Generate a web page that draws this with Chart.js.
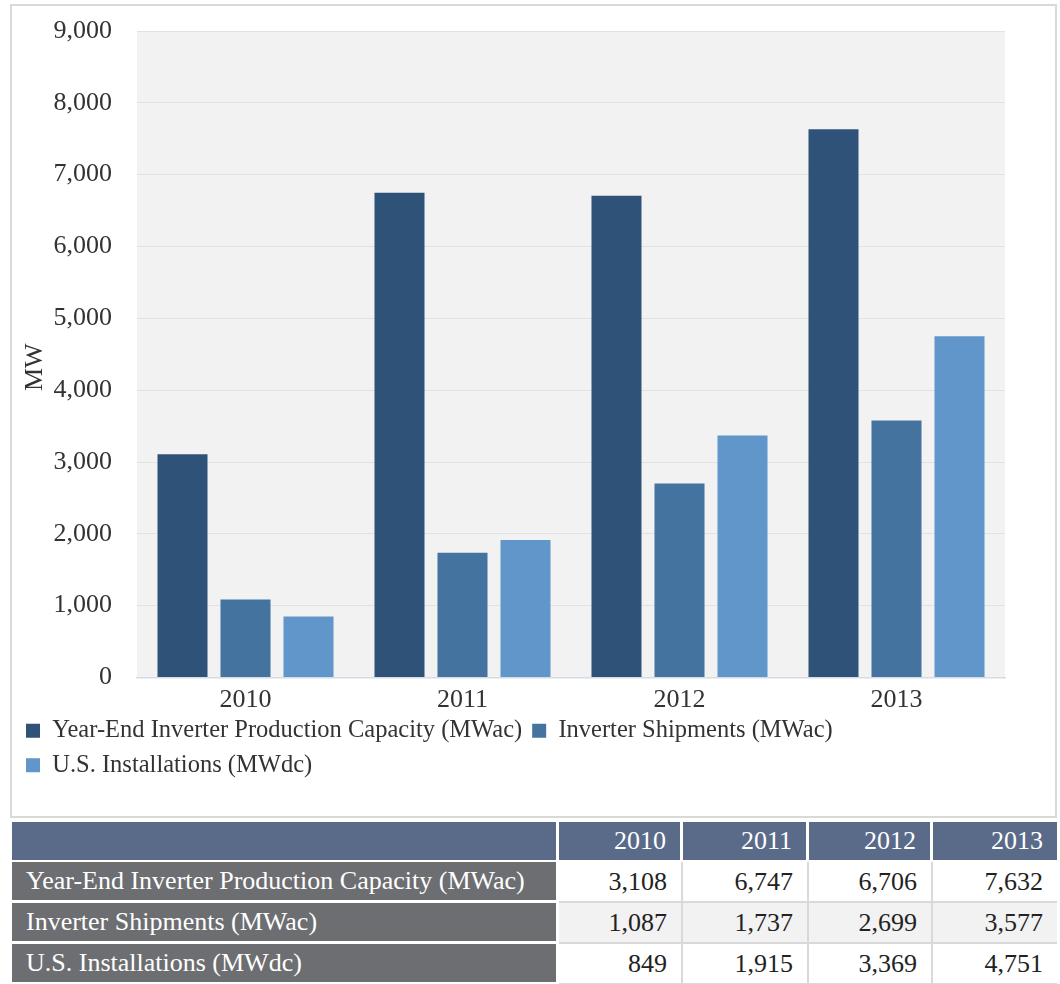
<!DOCTYPE html>
<html>
<head>
<meta charset="utf-8">
<script src="https://cdn.jsdelivr.net/npm/chart.js@4"></script>
<style>
  body { margin: 0; background: #fff; font-family: "Liberation Serif", "Times New Roman", serif; }
  #box { position: absolute; left: 10px; top: 4px; width: 1047px; height: 814px; border: 2px solid #d9d9d9; box-sizing: border-box; }
  #chartWrap { position: absolute; left: 0; top: 0; width: 1043px; height: 810px; }
  #tbl { position: absolute; left: 12px; top: 822px; width: 1045px; border-collapse: separate; border-spacing: 0; table-layout: fixed; font-size: 26px; }
  #tbl th, #tbl td { padding: 0 14px; white-space: nowrap; overflow: hidden; }
  #tbl thead th { background: #5a6b89; color: #fff; font-weight: normal; text-align: right; height: 38px; border-right: 3px solid #fff; border-bottom: 2px solid #fff; }
  #tbl thead th:last-child { border-right: none; }
  #tbl td.rh { background: #6d6e71; color: #fff; text-align: left; border-right: 3px solid #fff; border-bottom: 3px solid #fff; }
  #tbl td.v { text-align: right; color: #222; border-right: 2px solid #d9d9d9; border-bottom: 2px solid #d9d9d9; }
  #tbl td.v:last-child { border-right: none; }
  #tbl tbody tr { height: 41px; }
  #tbl tbody tr:nth-child(2) td.v { background: #f2f2f2; }
</style>
</head>
<body>
<div id="box"><div id="chartWrap"><canvas id="invChart"></canvas></div></div>
<table id="tbl">
  <colgroup><col style="width:547px"><col style="width:124px"><col style="width:126px"><col style="width:124px"><col style="width:124px"></colgroup>
  <thead><tr id="headRow"><th></th></tr></thead>
  <tbody id="tblBody"></tbody>
</table>
<script>
const years = ['2010', '2011', '2012', '2013'];
const seriesNames = ['Year-End Inverter Production Capacity (MWac)', 'Inverter Shipments (MWac)', 'U.S. Installations (MWdc)'];
const capacity = [3108, 6747, 6706, 7632];
const shipments = [1087, 1737, 2699, 3577];
const installs = [849, 1915, 3369, 4751];
const colors = ['#2f5278', '#44739f', '#6196ca'];

const allSeries = [capacity, shipments, installs];
const fmt = v => v.toLocaleString('en-US');

// table under the chart
const headRow = document.getElementById('headRow');
years.forEach(y => {
    const th = document.createElement('th');
    th.textContent = y;
    headRow.appendChild(th);
});
const tblBody = document.getElementById('tblBody');
allSeries.forEach((vals, i) => {
    const tr = document.createElement('tr');
    let html = '<td class="rh">' + seriesNames[i] + '</td>';
    vals.forEach(v => { html += '<td class="v">' + fmt(v) + '</td>'; });
    tr.innerHTML = html;
    tblBody.appendChild(tr);
});

const plotBg = {
    id: 'plotBg',
    beforeDraw(chart) {
        const {ctx, chartArea} = chart;
        ctx.save();
        ctx.fillStyle = '#f2f2f2';
        ctx.fillRect(chartArea.left, chartArea.top, chartArea.right - chartArea.left, chartArea.bottom - chartArea.top);
        ctx.restore();
    }
};

// pull the legend a bit closer to the axis labels
const legendNudge = {
    id: 'legendNudge',
    afterLayout(chart) {
        chart.legend.top -= 7;
        chart.legend.bottom -= 7;
    }
};

const serif = '"Liberation Serif", "Times New Roman", serif';
const ctx = document.getElementById('invChart').getContext('2d');
const invChart = new Chart(ctx, {
    type: 'bar',
    data: {
        labels: years,
        datasets: allSeries.map((vals, i) => ({
            label: seriesNames[i],
            data: vals,
            backgroundColor: colors[i],
            borderWidth: 0,
            categoryPercentage: 0.871,
            barPercentage: 0.794
        }))
    },
    options: {
        responsive: true,
        maintainAspectRatio: false,
        animation: false,
        layout: { padding: { left: 4, right: 50, top: 25, bottom: 21.6 } },
        plugins: {
            tooltip: { enabled: false },
            legend: {
                position: 'bottom',
                align: 'start',
                labels: {
                    font: { family: serif, size: 24.5 },
                    color: '#333',
                    boxWidth: 14,
                    boxHeight: 14,
                    padding: 10
                }
            }
        },
        scales: {
            x: {
                grid: { display: false },
                border: { color: '#d6dce5', width: 1.5 },
                ticks: { font: { family: serif, size: 26, lineHeight: 0.65 }, color: '#333', padding: 6.5 },
                afterFit(scale) { scale.paddingLeft = 0; scale.paddingRight = 0; }
            },
            y: {
                min: 0,
                max: 9000,
                ticks: { stepSize: 1000, font: { family: serif, size: 26 }, color: '#333', padding: 25 },
                grid: { color: '#e2e2e2', drawTicks: false },
                border: { display: false },
                title: { display: true, text: 'MW    ', font: { family: serif, size: 26 }, color: '#333', padding: { top: 3.4, bottom: 0 } },
                afterFit(scale) { scale.width = 121; scale.paddingTop = 0; scale.paddingBottom = 0; }
            }
        }
    },
    plugins: [plotBg, legendNudge]
});
</script>
</body>
</html>
